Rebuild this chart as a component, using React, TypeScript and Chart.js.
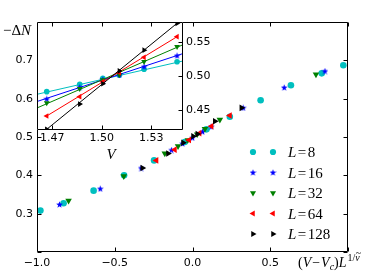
import React, { useEffect, useRef } from 'react';
import { Chart, registerables } from 'chart.js';
Chart.register(...registerables);

// ---------- data ----------
const seriesNames = ['8', '16', '32', '64', '128'];
const seriesColors = ['#00bfbf', '#0000ff', '#008000', '#ff0000', '#000000'];
const seriesMarkers = ['circle', 'star', 'down', 'left', 'right'];

// main plot: scaling collapse (V - Vc) L^(1/nu)  vs  -dN
const mainL8X = [-0.978, -0.829, -0.636, -0.44, -0.247, -0.05, 0.09, 0.24, 0.438, 0.633, 0.831, 0.97];
const mainL8Y = [0.308, 0.327, 0.36, 0.4, 0.439, 0.487, 0.52, 0.553, 0.596, 0.635, 0.666, 0.687];
const mainL16X = [-0.855, -0.593, -0.33, -0.135, -0.064, 0.0, 0.064, 0.12, 0.326, 0.59, 0.852];
const mainL16Y = [0.324, 0.365, 0.419, 0.466, 0.483, 0.498, 0.514, 0.527, 0.576, 0.629, 0.672];
const mainL32X = [-0.797, -0.442, -0.178, -0.093, -0.03, 0.03, 0.08, 0.176, 0.794];
const mainL32Y = [0.334, 0.398, 0.457, 0.476, 0.492, 0.507, 0.521, 0.545, 0.663];
const mainL64X = [-0.232, -0.114, -0.022, 0.045, 0.122, 0.24];
const mainL64Y = [0.439, 0.467, 0.492, 0.51, 0.528, 0.556];
const mainL128X = [-0.322, -0.157, -0.06, 0.004, 0.032, 0.144, 0.315];
const mainL128Y = [0.419, 0.457, 0.485, 0.502, 0.508, 0.541, 0.576];

// inset: raw curves vs V
const insetV = [1.4667, 1.4867, 1.5007, 1.5107, 1.5257, 1.5457];
const insetL8 = [0.477, 0.4878, 0.4966, 0.5015, 0.5099, 0.521];
const insetL16 = [0.4662, 0.4834, 0.4951, 0.5015, 0.5137, 0.5299];
const insetL32 = [0.4603, 0.4813, 0.4941, 0.5015, 0.521, 0.5431];
const insetL64 = [0.4412, 0.4696, 0.4916, 0.5049, 0.5275, 0.5578];
const insetL128 = [0.4216, 0.4588, 0.4886, 0.5074, 0.538, 0.5775];

// inset straight lines (end points)
const fitL8V = [1.4608, 1.5493];
const fitL8Y = [0.4731, 0.5221];
const fitL16V = [1.4608, 1.5493];
const fitL16Y = [0.4625, 0.533];
const fitL32V = [1.4608, 1.5493];
const fitL32Y = [0.453, 0.546];
const fitL64V = [1.4667, 1.5457];
const fitL64Y = [0.4412, 0.5578];
const fitL128V = [1.4667, 1.5457];
const fitL128Y = [0.4216, 0.5775];

// ticks
const mainXTicks = [-1.0, -0.5, 0.0, 0.5, 1.0];
const mainXTickLabels = ['\u22121.0', '\u22120.5', '0.0', '0.5', ''];
const mainYTicks = [0.2, 0.3, 0.4, 0.5, 0.6, 0.7, 0.8];
const mainYTickLabels = ['', '0.3', '0.4', '0.5', '0.6', '0.7', ''];
const insetXTicks = [1.47, 1.5, 1.53];
const insetXTickLabels = ['1.47', '1.50', '1.53'];
const insetYTicks = [0.45, 0.5, 0.55];
const insetYTickLabels = ['0.45', '0.50', '0.55'];

// ---------- helpers ----------
const zip = (xs: number[], ys: number[]) => xs.map((x, i) => ({ x, y: ys[i] }));
const labelFor = (ticks: number[], labels: string[]) => (v: any) => {
  const i = ticks.findIndex((t) => Math.abs(t - Number(v)) < 1e-6);
  return i >= 0 ? labels[i] : '';
};

function makeStar(size: number, color: string) {
  const c = document.createElement('canvas');
  c.width = size;
  c.height = size;
  const g = c.getContext('2d')!;
  g.fillStyle = color;
  g.beginPath();
  const cx = size / 2, cy = size / 2 + 0.3, R = size / 2, r = R * 0.42;
  for (let i = 0; i < 10; i++) {
    const a = -Math.PI / 2 + (i * Math.PI) / 5;
    const rad = i % 2 === 0 ? R : r;
    const px = cx + Math.cos(a) * rad, py = cy + Math.sin(a) * rad;
    if (i === 0) g.moveTo(px, py);
    else g.lineTo(px, py);
  }
  g.closePath();
  g.fill();
  return c;
}

function pointOpts(kind: string, color: string, small: boolean, star: HTMLCanvasElement) {
  const triR = small ? 3.3 : 3.8;
  const circR = small ? 2.8 : 3.3;
  if (kind === 'circle') return { pointStyle: 'circle', pointRadius: circR, pointRotation: 0 };
  if (kind === 'star') return { pointStyle: star, pointRadius: 3, pointRotation: 0 };
  const rot = kind === 'down' ? 180 : kind === 'left' ? 270 : 90;
  return { pointStyle: 'triangle', pointRadius: triR, pointRotation: rot };
}

function drawMarker(ctx: CanvasRenderingContext2D, kind: string, x: number, y: number, color: string, star: HTMLCanvasElement) {
  ctx.save();
  ctx.fillStyle = color;
  if (kind === 'circle') {
    ctx.beginPath();
    ctx.arc(x, y, 3.1, 0, Math.PI * 2);
    ctx.fill();
  } else if (kind === 'star') {
    ctx.drawImage(star, x - star.width / 2, y - star.height / 2);
  } else {
    const rot = ((kind === 'down' ? 180 : kind === 'left' ? 270 : 90) * Math.PI) / 180;
    const r = 3.5;
    ctx.beginPath();
    for (let k = 0; k < 3; k++) {
      const a = rot + (k * 2 * Math.PI) / 3;
      const px = x + Math.sin(a) * r, py = y - Math.cos(a) * r;
      if (k === 0) ctx.moveTo(px, py);
      else ctx.lineTo(px, py);
    }
    ctx.closePath();
    ctx.fill();
  }
  ctx.restore();
}

function frameAndTicks(
  chart: any,
  sides: { top: boolean; bottom: boolean; left: boolean; right: boolean },
  xt: number[],
  yt: number[],
  yLeft: boolean,
  yRight: boolean
) {
  const ctx: CanvasRenderingContext2D = chart.ctx;
  const a = chart.chartArea;
  const L = Math.round(a.left) + 0.5, R = Math.round(a.right) - 0.5;
  const T = Math.round(a.top) + 0.5, B = Math.round(a.bottom) - 0.5;
  ctx.save();
  ctx.strokeStyle = '#000';
  ctx.lineWidth = 1;
  ctx.beginPath();
  if (sides.top) { ctx.moveTo(L, T); ctx.lineTo(R, T); }
  if (sides.bottom) { ctx.moveTo(L, B); ctx.lineTo(R, B); }
  if (sides.left) { ctx.moveTo(L, T); ctx.lineTo(L, B); }
  if (sides.right) { ctx.moveTo(R, T); ctx.lineTo(R, B); }
  const tl = 4;
  xt.forEach((v) => {
    const px = Math.round(chart.scales.x.getPixelForValue(v)) + 0.5;
    if (px < L - 1 || px > R + 1) return;
    ctx.moveTo(px, B); ctx.lineTo(px, B - tl);
    ctx.moveTo(px, T); ctx.lineTo(px, T + tl);
  });
  yt.forEach((v) => {
    const py = Math.round(chart.scales.y.getPixelForValue(v)) + 0.5;
    if (py < T - 1 || py > B + 1) return;
    if (yLeft) { ctx.moveTo(L, py); ctx.lineTo(L + tl, py); }
    if (yRight) { ctx.moveTo(R, py); ctx.lineTo(R - tl, py); }
  });
  ctx.stroke();
  ctx.restore();
}

type Seg = { t: string; it?: boolean; size?: number; dy?: number; gap?: number };
function drawMath(ctx: CanvasRenderingContext2D, segs: Seg[], x: number, y: number, base: number) {
  let cx = x;
  const pos: number[] = [];
  segs.forEach((s) => {
    const sz = s.size ?? base;
    ctx.font = `${s.it ? 'italic ' : ''}${sz}px "Liberation Serif"`;
    cx += s.gap ?? 0;
    pos.push(cx);
    ctx.fillText(s.t, cx, y + (s.dy ?? 0));
    cx += ctx.measureText(s.t).width;
  });
  return pos;
}

export default function App() {
  const mainRef = useRef<HTMLCanvasElement>(null);
  const insetRef = useRef<HTMLCanvasElement>(null);

  useEffect(() => {
    const stars = seriesColors.map((c) => makeStar(7, c));
    const starsSmall = seriesColors.map((c) => makeStar(7, c));
    const mainXs = [mainL8X, mainL16X, mainL32X, mainL64X, mainL128X];
    const mainYs = [mainL8Y, mainL16Y, mainL32Y, mainL64Y, mainL128Y];
    const insetYs = [insetL8, insetL16, insetL32, insetL64, insetL128];
    const fitVs = [fitL8V, fitL16V, fitL32V, fitL64V, fitL128V];
    const fitYs = [fitL8Y, fitL16Y, fitL32Y, fitL64Y, fitL128Y];

    const mainDatasets = seriesNames.map((n, i) => ({
      label: 'L = ' + n,
      data: zip(mainXs[i], mainYs[i]),
      showLine: false,
      backgroundColor: seriesColors[i],
      borderColor: seriesColors[i],
      pointBorderWidth: 0,
      order: 10 - i,
      ...pointOpts(seriesMarkers[i], seriesColors[i], false, stars[i]),
    }));

    const mainPlugin = {
      id: 'mainDecor',
      afterDraw(chart: any) {
        frameAndTicks(chart, { top: true, bottom: true, left: true, right: true }, mainXTicks, mainYTicks, true, true);
        const ctx: CanvasRenderingContext2D = chart.ctx;
        ctx.save();
        ctx.fillStyle = '#000';
        ctx.textBaseline = 'alphabetic';
        // legend
        seriesNames.forEach((n, i) => {
          const y = 152 + i * 20.5;
          drawMarker(ctx, seriesMarkers[i], 253, y, seriesColors[i], stars[i]);
          drawMarker(ctx, seriesMarkers[i], 273, y, seriesColors[i], stars[i]);
          ctx.fillStyle = '#000';
          drawMath(ctx, [
            { t: 'L', it: true },
            { t: '=', gap: 1.5 },
            { t: n, gap: 1.5 },
          ], 288, y + 5, 15);
        });
        // y label
        drawMath(ctx, [{ t: '\u2212' }, { t: '\u0394' }, { t: 'N', it: true }], 3, 35, 15);
        // x label
        const p = drawMath(ctx, [
          { t: '(' },
          { t: 'V', it: true },
          { t: '\u2212', gap: 1 },
          { t: 'V', it: true, gap: 1 },
          { t: 'c', it: true, size: 10, dy: 3 },
          { t: ')' },
          { t: 'L', it: true },
          { t: '1/', size: 10, dy: -6, gap: 1 },
          { t: '\u03bd', it: true, size: 10, dy: -6 },
        ], 298, 267, 14);
        ctx.font = '10px "Liberation Serif"';
        ctx.fillText('~', p[8] + 0.5, 256);
        ctx.restore();
      },
    };

    const mainChart = new Chart(mainRef.current!, {
      type: 'scatter',
      data: { datasets: mainDatasets as any },
      options: {
        animation: false,
        responsive: false,
        devicePixelRatio: 1,
        layout: { padding: { left: 0, top: 22, right: 26, bottom: 0 } },
        plugins: { legend: { display: false }, tooltip: { enabled: false } },
        scales: {
          x: {
            type: 'linear',
            min: -1,
            max: 1,
            afterFit: (s: any) => { s.height = 28; },
            afterBuildTicks: (s: any) => { s.ticks = mainXTicks.map((v) => ({ value: v })); },
            grid: { display: false, drawTicks: false, tickLength: 0 },
            border: { display: false },
            ticks: {
              padding: 5,
              color: '#000',
              font: { family: 'DejaVu Sans', size: 11 },
              maxRotation: 0,
              autoSkip: false,
              callback: labelFor(mainXTicks, mainXTickLabels),
            },
          },
          y: {
            type: 'linear',
            min: 0.2,
            max: 0.8,
            afterFit: (s: any) => { s.width = 37; },
            afterBuildTicks: (s: any) => { s.ticks = mainYTicks.map((v) => ({ value: v })); },
            grid: { display: false, drawTicks: false, tickLength: 0 },
            border: { display: false },
            ticks: {
              padding: 4,
              color: '#000',
              font: { family: 'DejaVu Sans', size: 11 },
              autoSkip: false,
              callback: labelFor(mainYTicks, mainYTickLabels),
            },
          },
        },
      },
      plugins: [mainPlugin],
    });

    const insetDatasets: any[] = [];
    seriesNames.forEach((n, i) => {
      insetDatasets.push({
        label: 'fit ' + n,
        data: zip(fitVs[i], fitYs[i]),
        showLine: true,
        borderColor: seriesColors[i],
        borderWidth: 1,
        pointRadius: 0,
        order: 20 - 2 * i,
      });
      insetDatasets.push({
        label: 'L = ' + n,
        data: zip(insetV, insetYs[i]),
        showLine: false,
        backgroundColor: seriesColors[i],
        borderColor: seriesColors[i],
        pointBorderWidth: 0,
        order: 19 - 2 * i,
        ...pointOpts(seriesMarkers[i], seriesColors[i], true, starsSmall[i]),
      });
    });

    const insetPlugin = {
      id: 'insetDecor',
      beforeDraw(chart: any) {
        const a = chart.chartArea;
        const ctx: CanvasRenderingContext2D = chart.ctx;
        ctx.save();
        ctx.fillStyle = '#fff';
        ctx.fillRect(a.left, a.top, a.right - a.left, a.bottom - a.top);
        ctx.restore();
      },
      afterDraw(chart: any) {
        frameAndTicks(chart, { top: true, bottom: true, left: true, right: true }, insetXTicks, insetYTicks, false, true);
        const ctx: CanvasRenderingContext2D = chart.ctx;
        ctx.save();
        ctx.fillStyle = '#000';
        ctx.textBaseline = 'alphabetic';
        ctx.font = 'italic 15px "Liberation Serif"';
        const w = ctx.measureText('V').width;
        ctx.fillText('V', 111 - w / 2, 159);
        ctx.restore();
      },
    };

    const insetChart = new Chart(insetRef.current!, {
      type: 'scatter',
      data: { datasets: insetDatasets },
      options: {
        animation: false,
        responsive: false,
        devicePixelRatio: 1,
        layout: { padding: { left: 37, top: 22, right: 0, bottom: 0 } },
        plugins: { legend: { display: false }, tooltip: { enabled: false } },
        scales: {
          x: {
            type: 'linear',
            min: 1.4608,
            max: 1.5493,
            afterFit: (s: any) => { s.height = 40; },
            afterBuildTicks: (s: any) => { s.ticks = insetXTicks.map((v) => ({ value: v })); },
            grid: { display: false, drawTicks: false, tickLength: 0 },
            border: { display: false },
            ticks: {
              padding: 2,
              color: '#000',
              font: { family: 'DejaVu Sans', size: 11 },
              maxRotation: 0,
              autoSkip: false,
              callback: labelFor(insetXTicks, insetXTickLabels),
            },
          },
          y: {
            type: 'linear',
            position: 'right',
            min: 0.4206,
            max: 0.5794,
            afterFit: (s: any) => { s.width = 47; },
            afterBuildTicks: (s: any) => { s.ticks = insetYTicks.map((v) => ({ value: v })); },
            grid: { display: false, drawTicks: false, tickLength: 0 },
            border: { display: false },
            ticks: {
              padding: 3,
              color: '#000',
              font: { family: 'DejaVu Sans', size: 11 },
              autoSkip: false,
              callback: labelFor(insetYTicks, insetYTickLabels),
            },
          },
        },
      },
      plugins: [insetPlugin],
    });

    return () => {
      mainChart.destroy();
      insetChart.destroy();
    };
  }, []);

  return (
    <div style={{ position: 'fixed', left: 0, top: 0, width: 374, height: 280, background: '#fff', overflow: 'hidden' }}>
      <canvas ref={mainRef} width={374} height={280} style={{ position: 'absolute', left: 0, top: 0, width: 374, height: 280 }} />
      <canvas ref={insetRef} width={230} height={170} style={{ position: 'absolute', left: 0, top: 0, width: 230, height: 170 }} />
    </div>
  );
}
